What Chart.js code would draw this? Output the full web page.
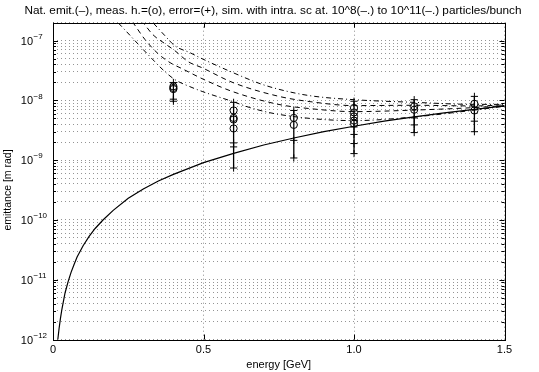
<!DOCTYPE html>
<html>
<head>
<meta charset="utf-8">
<script src="https://cdn.jsdelivr.net/npm/chart.js@4.4.0/dist/chart.umd.min.js"></script>
<style>
  html, body { margin: 0; padding: 0; background: #fff; }
</style>
</head>
<body>
<canvas id="emit" width="539" height="372"></canvas>
<script>
// tick labels
const xTicks = [0, 0.5, 1, 1.5];
const yDecades = [-12, -11, -10, -9, -8, -7];
const titleText = 'Nat. emit.(\u2013), meas. h.=(o), error=(+), sim. with intra. sc at. 10^8(\u2013.) to 10^11(\u2013.) particles/bunch';

// natural emittance (solid)
const natE    = [0.012, 0.016, 0.02, 0.025, 0.03, 0.04, 0.05, 0.06, 0.07, 0.08, 0.1, 0.12, 0.14, 0.166, 0.2, 0.25, 0.3, 0.35, 0.4, 0.5, 0.6, 0.7, 0.8, 0.9, 1.0, 1.1, 1.2, 1.3, 1.4, 1.5];
const natEmit = [6e-13, 1e-12, 1.5e-12, 2.3e-12, 3.3e-12, 6e-12, 9.2e-12, 1.33e-11, 1.8e-11, 2.4e-11, 3.7e-11, 5.3e-11, 7.2e-11, 1e-10, 1.45e-10, 2.3e-10, 3.3e-10, 4.5e-10, 5.8e-10, 9.1e-10, 1.3e-9, 1.8e-9, 2.35e-9, 3.0e-9, 3.7e-9, 4.5e-9, 5.3e-9, 6.2e-9, 7.1e-9, 8.1e-9];

// simulation with intra beam scattering, 10^8 .. 10^11 particles/bunch
const ibs8E  = [0.189, 0.216, 0.316, 0.372, 0.405, 0.455, 0.498, 0.598, 0.654, 0.754, 1.0, 1.2, 1.4, 1.5];
const ibs8   = [2.72e-7, 2.0e-7, 5.83e-8, 3.03e-8, 2.23e-8, 1.70e-8, 1.40e-8, 9.55e-9, 7.6e-9, 5.8e-9, 4.6e-9, 5.3e-9, 6.9e-9, 8.0e-9];
const ibs9E  = [0.246, 0.266, 0.306, 0.349, 0.389, 0.429, 0.495, 0.598, 0.754, 0.854, 1.0, 1.2, 1.4, 1.5];
const ibs9   = [2.72e-7, 2.0e-7, 1.04e-7, 6.07e-8, 4.29e-8, 3.4e-8, 2.32e-8, 1.40e-8, 8.5e-9, 7.3e-9, 6.5e-9, 6.9e-9, 7.6e-9, 8.2e-9];
const ibs10E = [0.272, 0.299, 0.332, 0.372, 0.405, 0.449, 0.495, 0.598, 0.754, 0.854, 1.0, 1.2, 1.4, 1.5];
const ibs10  = [2.72e-7, 2.0e-7, 1.26e-7, 8.9e-8, 6.8e-8, 4.46e-8, 3.53e-8, 1.99e-8, 1.16e-8, 9.55e-9, 8.2e-9, 8.3e-9, 8.1e-9, 8.4e-9];
const ibs11E = [0.306, 0.332, 0.372, 0.405, 0.455, 0.495, 0.598, 0.688, 0.754, 0.854, 1.0, 1.2, 1.4, 1.5];
const ibs11  = [2.72e-7, 2.0e-7, 1.21e-7, 8.2e-8, 6.3e-8, 5.0e-8, 2.92e-8, 1.91e-8, 1.52e-8, 1.20e-8, 1.03e-8, 9.3e-9, 8.6e-9, 8.6e-9];

// measurements (o) and error limits (+)
const energies = [0.4, 0.6, 0.8, 1.0, 1.2, 1.4];
const measAt = [
    [1.72e-8, 1.62e-8, 1.55e-8],
    [6.8e-9, 5.1e-9, 4.8e-9, 3.4e-9],
    [5.1e-9, 3.9e-9],
    [7.5e-9, 6.3e-9, 5.4e-9, 4.6e-9, 4.1e-9],
    [7.96e-9, 7.0e-9],
    [8.8e-9, 6.8e-9],
];
const errAt = [
    [2.0e-8, 1.05e-8, 9.7e-9],
    [9.3e-9, 1.95e-9, 1.67e-9, 7.4e-10],
    [6.8e-9, 2.15e-9, 1.09e-9],
    [9.7e-9, 3.6e-9, 2.7e-9, 1.9e-9, 1.29e-9],
    [1.03e-8, 5.1e-9, 3.9e-9, 2.9e-9],
    [1.17e-8, 4.5e-9, 3.0e-9],
];

const FONT = '"Liberation Sans", Arial, Helvetica, sans-serif';
Chart.defaults.font.family = FONT;
Chart.defaults.font.size = 11;
Chart.defaults.color = '#000';

function pts(xs, ys) {
    return xs.map((x, i) => ({x, y: ys[i]}));
}

function curve(xs, ys, dash) {
    return {
        data: pts(xs, ys),
        borderColor: '#000',
        borderWidth: 1,
        borderDash: dash,
        pointRadius: 0,
        cubicInterpolationMode: 'monotone',
    };
}

const measPts = [];
const errPts = [];
const barPts = [];
energies.forEach((e, i) => {
    measAt[i].forEach(v => measPts.push({x: e, y: v}));
    errAt[i].forEach(v => errPts.push({x: e, y: v}));
    barPts.push({x: e, y: Math.max(...errAt[i])}, {x: e, y: Math.min(...errAt[i])}, {x: e, y: null});
});

// minor + major ticks of the log axis
const yTickVals = [];
yDecades.forEach(d => {
    for (let k = 1; k <= 9; k++) {
        const v = k * Math.pow(10, d);
        if (v <= 2.0001e-7) yTickVals.push(v);
    }
});

// box, inward ticks, 10^n labels, title and y label like matlab
const frame = {
    id: 'frame',
    afterDraw(chart) {
        const {ctx, chartArea: a, scales: {x, y}} = chart;
        ctx.save();
        ctx.strokeStyle = '#000';
        ctx.lineWidth = 1;
        ctx.beginPath();
        xTicks.forEach(t => {
            const px = Math.round(x.getPixelForValue(t)) + 0.5;
            ctx.moveTo(px, a.bottom); ctx.lineTo(px, a.bottom - 5);
            ctx.moveTo(px, a.top); ctx.lineTo(px, a.top + 5);
        });
        yTickVals.forEach(v => {
            const py = Math.round(y.getPixelForValue(v)) + 0.5;
            const len = yDecades.some(d => Math.abs(v - Math.pow(10, d)) < v * 1e-6) ? 5 : 3;
            ctx.moveTo(a.left, py); ctx.lineTo(a.left + len, py);
            ctx.moveTo(a.right, py); ctx.lineTo(a.right - len, py);
        });
        ctx.stroke();
        ctx.strokeRect(Math.round(a.left) + 0.5, Math.round(a.top) + 0.5,
            Math.round(a.right - a.left), Math.round(a.bottom - a.top));

        ctx.fillStyle = '#000';
        ctx.textBaseline = 'middle';
        yDecades.forEach(d => {
            const py = y.getPixelForValue(Math.pow(10, d));
            ctx.font = '11px ' + FONT;
            ctx.textAlign = 'right';
            ctx.fillText('10', 33, py + 1);
            ctx.font = '8px ' + FONT;
            ctx.textAlign = 'left';
            ctx.fillText('\u2212' + Math.abs(d), 33.5, py - 4);
        });

        // title: fit to the width it has in the original
        ctx.font = '11px ' + FONT;
        const w = ctx.measureText(titleText).width;
        ctx.font = (11 * 497 / w).toFixed(2) + 'px ' + FONT;
        ctx.textAlign = 'center';
        ctx.fillText(titleText, 273, 11);

        ctx.translate(8, 190);
        ctx.rotate(-Math.PI / 2);
        ctx.font = '10.5px ' + FONT;
        ctx.textAlign = 'center';
        ctx.fillText('emittance [m rad]', 0, 0);
        ctx.restore();
    }
};

new Chart(document.getElementById('emit'), {
    type: 'line',
    data: {
        datasets: [
            {
                data: measPts,
                showLine: false,
                pointStyle: 'circle',
                pointRadius: 3.6,
                pointBorderWidth: 1,
                borderColor: '#000',
                backgroundColor: 'rgba(0,0,0,0)',
            },
            {
                data: errPts,
                showLine: false,
                pointStyle: 'cross',
                pointRadius: 3.6,
                pointBorderWidth: 1,
                borderColor: '#000',
            },
            {
                data: barPts,
                borderColor: '#000',
                borderWidth: 1.3,
                pointRadius: 0,
                spanGaps: false,
            },
            {
                data: pts(natE, natEmit),
                borderColor: '#000',
                borderWidth: 1.2,
                pointRadius: 0,
                tension: 0,
            },
            curve(ibs8E, ibs8, [5, 3, 1, 3]),
            curve(ibs9E, ibs9, [5, 4]),
            curve(ibs10E, ibs10, [5, 4]),
            curve(ibs11E, ibs11, [5, 3, 1, 3]),
        ],
    },
    options: {
        responsive: false,
        animation: false,
        events: [],
        layout: {padding: {left: 0, right: 34.5, top: 22.7, bottom: 0}},
        plugins: {
            legend: {display: false},
            tooltip: {enabled: false},
            title: {display: false},
        },
        scales: {
            x: {
                type: 'linear',
                min: 0,
                max: 1.5,
                afterBuildTicks: s => { s.ticks = xTicks.map(v => ({value: v})); },
                afterFit: s => { s.height = 32.5; },
                ticks: {padding: 3.6, font: {size: 11}},
                grid: {color: 'rgba(0,0,0,0.45)', drawTicks: false},
                border: {display: false, dash: [1, 3]},
                title: {display: true, text: 'energy [GeV]', font: {size: 11}, padding: {top: 0, bottom: 0.5}},
            },
            y: {
                type: 'logarithmic',
                min: 1e-12,
                max: 2e-7,
                afterBuildTicks: s => { s.ticks = yTickVals.map(v => ({value: v})); },
                afterFit: s => { s.width = 53; },
                ticks: {display: false},
                grid: {color: 'rgba(0,0,0,0.42)', drawTicks: false},
                border: {display: false, dash: [1, 3]},
            },
        },
    },
    plugins: [frame],
});
</script>
</body>
</html>
